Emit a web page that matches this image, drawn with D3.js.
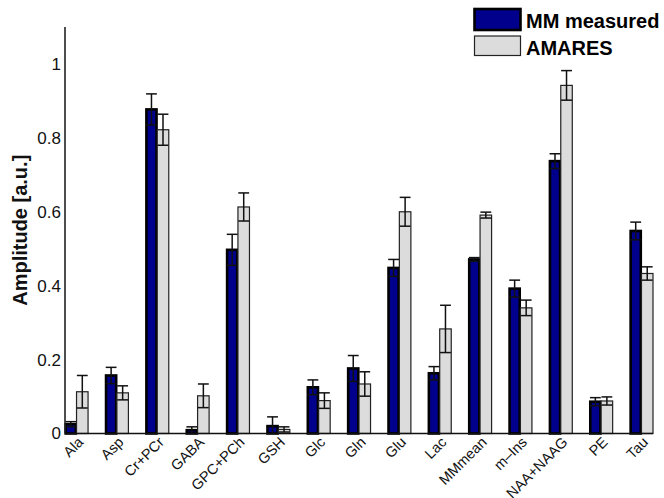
<!DOCTYPE html>
<html>
<head>
<meta charset="utf-8">
<script src="https://cdn.jsdelivr.net/npm/d3@7"></script>
<style>
  html, body { margin: 0; padding: 0; background: #fff; }
  svg { display: block; font-family: "Liberation Sans", Arial, sans-serif; }
</style>
</head>
<body>
<svg id="chart" width="664" height="498"></svg>
<script>
// Metabolite amplitudes: measured macromolecule baseline vs. AMARES fit
const categories = ["Ala", "Asp", "Cr+PCr", "GABA", "GPC+PCh", "GSH", "Glc", "Gln",
                    "Glu", "Lac", "MMmean", "m\u2013Ins", "NAA+NAAG", "PE", "Tau"];
const seriesNames = ["MM measured", "AMARES"];
const mmMeasured    = [0.025, 0.157, 0.877, 0.009, 0.497, 0.020, 0.125, 0.176, 0.448, 0.163, 0.471, 0.392, 0.737, 0.086, 0.548];
const mmMeasuredErr = [0.007, 0.022, 0.042, 0.009, 0.042, 0.025, 0.020, 0.035, 0.023, 0.018, 0.005, 0.023, 0.020, 0.011, 0.024];
const amares        = [0.113, 0.110, 0.822, 0.102, 0.613, 0.011, 0.089, 0.134, 0.600, 0.283, 0.591, 0.340, 0.942, 0.088, 0.433];
const amaresErr     = [0.044, 0.019, 0.042, 0.032, 0.038, 0.007, 0.021, 0.033, 0.039, 0.064, 0.008, 0.021, 0.040, 0.011, 0.018];
const yTicks = [0, 0.2, 0.4, 0.6, 0.8, 1];
const yLabel = "Amplitude [a.u.]";

const values = [mmMeasured, amares];
const errors = [mmMeasuredErr, amaresErr];
const fills = ["#00008c", "#dcdcdc"];
const strokes = ["#000", "#222"];
const strokeWidths = [2.6, 1.2];
const FONT = "'Liberation Sans', Arial, sans-serif";

const svg = d3.select("#chart");
const margin = { left: 65, right: 11, top: 27, bottom: 64.5 };
const W = 664, H = 498;

const x = d3.scaleBand()
  .domain(categories)
  .range([margin.left, W - margin.right])
  .paddingInner(3 / 7)
  .paddingOuter(0);
const xSub = d3.scaleBand().domain(seriesNames).range([0, x.bandwidth()]);
const y = d3.scaleLinear().domain([0, 1.1]).range([H - margin.bottom, margin.top]);

// one record per bar
const rows = [];
categories.forEach((c, i) => {
  seriesNames.forEach((s, k) => {
    rows.push({ cat: c, series: s, k, v: values[k][i], e: errors[k][i] });
  });
});
const cx = d => x(d.cat) + xSub(d.series) + xSub.bandwidth() / 2;

const g = svg.append("g");
g.selectAll("rect.bar")
  .data(rows)
  .join("rect")
  .attr("class", "bar")
  .attr("x", d => x(d.cat) + xSub(d.series) + strokeWidths[d.k] / 2 - 0.6)
  .attr("width", d => xSub.bandwidth() - strokeWidths[d.k] + 1.2)
  .attr("y", d => y(d.v))
  .attr("height", d => y(0) - y(d.v))
  .attr("fill", d => fills[d.k])
  .attr("stroke", d => strokes[d.k])
  .attr("stroke-width", d => strokeWidths[d.k]);

// symmetric error bars with caps
const capHalf = xSub.bandwidth() * 0.47;
const eb = g.selectAll("g.err").data(rows).join("g").attr("class", "err")
  .attr("stroke", "#111").attr("stroke-width", 1.5).attr("fill", "none");
eb.append("line")
  .attr("x1", cx).attr("x2", cx)
  .attr("y1", d => y(Math.max(0, d.v - d.e)))
  .attr("y2", d => y(d.v + d.e));
eb.append("line")
  .attr("x1", d => cx(d) - capHalf).attr("x2", d => cx(d) + capHalf)
  .attr("y1", d => y(d.v + d.e)).attr("y2", d => y(d.v + d.e));
eb.filter(d => d.v - d.e > 0).append("line")
  .attr("x1", d => cx(d) - capHalf).attr("x2", d => cx(d) + capHalf)
  .attr("y1", d => y(d.v - d.e)).attr("y2", d => y(d.v - d.e));

// y axis
const yAxis = svg.append("g")
  .attr("transform", `translate(${margin.left},0)`)
  .call(d3.axisLeft(y).tickValues(yTicks).tickSize(0).tickPadding(4)
        .tickFormat(d => d3.format("~g")(d)));
yAxis.select(".domain").remove();
yAxis.attr("font-family", FONT).attr("font-size", 17);
yAxis.selectAll("text").attr("fill", "#111");
svg.append("line")
  .attr("x1", margin.left).attr("x2", margin.left)
  .attr("y1", y(1.1)).attr("y2", y(0))
  .attr("stroke", "#222").attr("stroke-width", 1.6);

// x baseline and category labels turned 45 degrees
svg.append("line")
  .attr("x1", margin.left).attr("x2", W - margin.right)
  .attr("y1", y(0)).attr("y2", y(0))
  .attr("stroke", "#111").attr("stroke-width", 1.6);
const tickLabels = svg.append("g").selectAll("g")
  .data(categories)
  .join("g")
  .attr("transform", c => `translate(${x(c) + x.bandwidth() / 2 + 4},${y(0) + 6})`);
tickLabels.append("g")
  .attr("transform", "rotate(-45)")
  .append("text")
  .attr("text-anchor", "end")
  .attr("dy", "0.35em")
  .attr("font-family", FONT)
  .attr("font-size", 14.5)
  .attr("fill", "#111")
  .text(c => c);

// y axis title
svg.append("text")
  .attr("transform", `translate(27,${(y(0) + y(1.1)) / 2}) rotate(-90)`)
  .attr("text-anchor", "middle")
  .attr("font-family", FONT)
  .attr("font-size", 20).attr("font-weight", "bold").attr("fill", "#111")
  .text(yLabel);

// legend
const legend = svg.append("g");
seriesNames.forEach((s, k) => {
  const top = k === 0 ? 9 : 36;
  legend.append("rect")
    .attr("x", 474.5).attr("y", top).attr("width", 46).attr("height", k === 0 ? 21 : 19.5)
    .attr("fill", fills[k]).attr("stroke", strokes[k]).attr("stroke-width", strokeWidths[k]);
  legend.append("text")
    .attr("x", 526).attr("y", top + 18.5)
    .attr("font-family", FONT)
    .attr("font-size", 20).attr("font-weight", "bold").attr("fill", "#000")
    .text(s);
});
</script>
</body>
</html>
